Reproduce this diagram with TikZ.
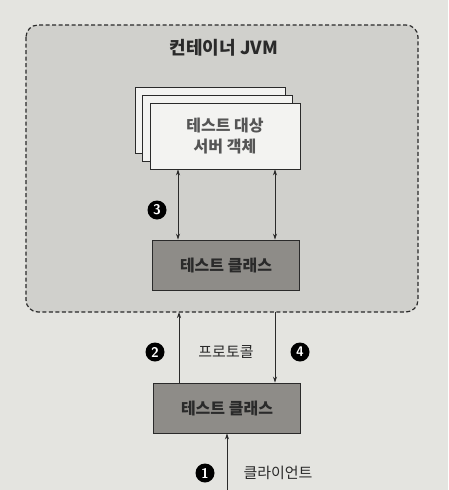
\documentclass[tikz,border=0pt]{standalone}
\usepackage{fontspec}
\newfontfamily\kr{Noto Sans CJK KR}
\setmainfont{Noto Sans CJK KR}
\usetikzlibrary{arrows.meta}
\definecolor{pagebg}{HTML}{E4E4E0}
\definecolor{contbg}{HTML}{D0D0CC}
\definecolor{darkbox}{HTML}{8E8C88}
\definecolor{lightbox}{HTML}{F3F3F1}
\definecolor{ink}{HTML}{2A2A2A}
\tikzset{
  x=1pt,y=-1pt,
  container/.style={draw=ink, dash pattern=on 4pt off 2.5pt, line width=1.2pt, fill=contbg, rounded corners=12pt},
  objbox/.style={draw=ink, line width=0.9pt, fill=lightbox, minimum width=150pt, minimum height=66pt, inner sep=0pt},
  classbox/.style={draw=ink, line width=0.9pt, fill=darkbox, minimum width=147pt, minimum height=50pt, inner sep=0pt, font=\kr\bfseries\fontsize{16}{18}\selectfont, text=ink},
  conn/.style={draw=ink, line width=0.8pt, -{Stealth[length=6pt,width=4pt]}},
  biconn/.style={draw=ink, line width=0.8pt, {Stealth[length=6pt,width=4pt]}-{Stealth[length=6pt,width=4pt]}},
  marker/.style={circle, fill=black, text=white, inner sep=0pt, minimum size=19pt, font=\sffamily\bfseries\fontsize{14}{14}\selectfont},
  lbl/.style={font=\kr\fontsize{15}{17}\selectfont, text=ink},
}
\begin{document}
\begin{tikzpicture}
\fill[pagebg] (0,0) rectangle (448,490);
\useasboundingbox (0,0) rectangle (448,490);
% container
\draw[container] (26,25) rectangle (418,312);
\node[font=\kr\bfseries\fontsize{18}{20}\selectfont, text=ink] (title) at (224,48) {컨테이너 JVM};
% stacked object boxes
\node[objbox] (obj3) at (210,120) {};
\node[objbox] (obj2) at (217,128) {};
\node[objbox, align=center, font=\kr\bfseries\fontsize{16}{21}\selectfont, text=ink!80] (obj) at (225,136) {테스트 대상\\서버 객체};
% inner test class
\node[classbox] (inner) at (226,265) {테스트 클래스};
% outer test class
\node[classbox] (outer) at (227,408) {테스트 클래스};
% container bottom coordinates
\coordinate (cb2) at (179,312);
\coordinate (cb4) at (275,312);
\coordinate (clientend) at (227,490);
% arrows 3
\draw[biconn] (obj.south -| 178,0) -- (inner.north -| 178,0);
\draw[biconn] (obj.south -| 275,0) -- (inner.north -| 275,0);
% arrows 2 and 4
\draw[conn] (outer.north -| cb2) -- (cb2);
\draw[conn] (cb4) -- (outer.north -| cb4);
% arrow 1
\draw[conn] (clientend) -- (outer.south -| clientend);
% markers and labels
\node[marker] (m3) at (157,210) {3};
\node[marker] (m2) at (155,352) {2};
\node[lbl] (proto) at (226,352) {프로토콜};
\node[marker] (m4) at (300,352) {4};
\node[marker] (m1) at (205,473) {1};
\node[lbl] (client) at (278,473) {클라이언트};
\end{tikzpicture}
\end{document}
